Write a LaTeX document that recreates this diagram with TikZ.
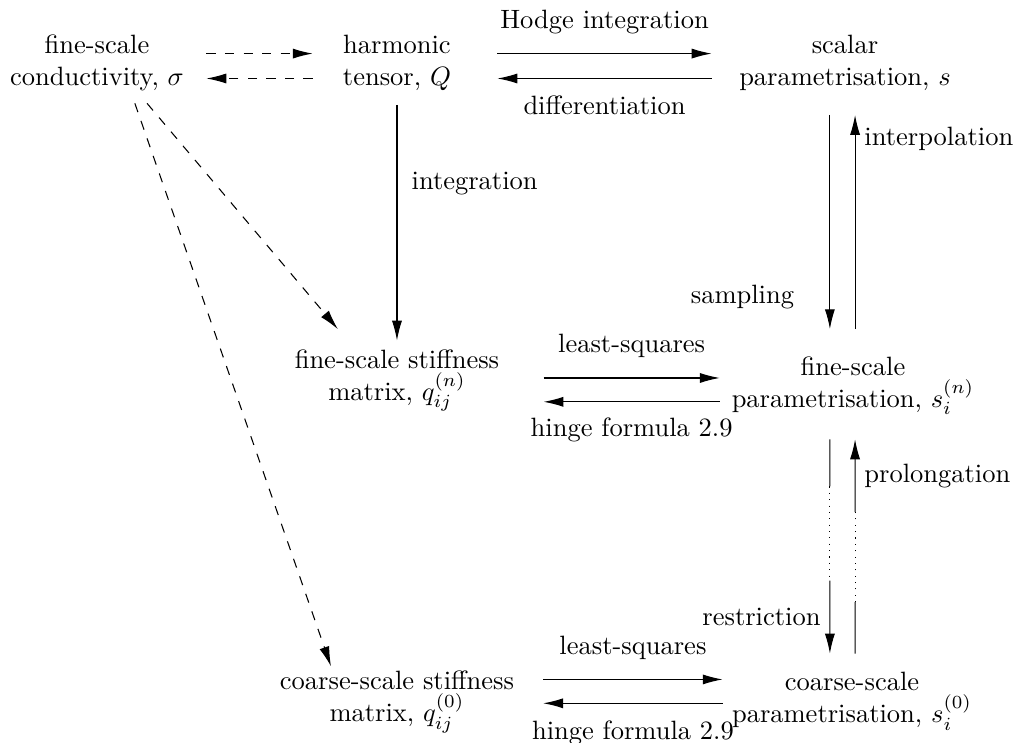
\documentclass[tikz,border=0pt]{standalone}
\usetikzlibrary{arrows.meta,calc}

\begin{document}
\begin{tikzpicture}[>={Latex[length=7.5pt,width=3.8pt]}, scale=1.0,
  blocco/.style={align=center},
  tratteggio/.style={->, dash pattern=on 3.5pt off 3.5pt}]

\useasboundingbox (0,0) rectangle (13.475,-9.841);

% Nodi
\node[blocco] (sig) at (1.286,-0.83) {fine-scale\\conductivity, $\sigma$};
\node[blocco] (Q)   at (5.265,-0.83) {harmonic\\tensor, $Q$};
\node[blocco] (s)   at (11.207,-0.83) {scalar\\parametrisation, $s$};
\node[blocco] (qn)  at (5.265,-5.048) {fine-scale stiffness\\matrix, $q_{ij}^{(n)}$};
\node[blocco] (sn)  at (11.313,-5.119) {fine-scale\\parametrisation, $s_i^{(n)}$};
\node[blocco] (q0)  at (5.265,-9.31) {coarse-scale stiffness\\matrix, $q_{ij}^{(0)}$};
\node[blocco] (s0)  at (11.300,-9.30) {coarse-scale\\parametrisation, $s_i^{(0)}$};

% Prima riga
\draw[tratteggio] ([xshift=5pt,yshift=3.4pt]sig.east) -- ([xshift=-7.9pt,yshift=3.4pt]sig.east -| Q.west);
\draw[tratteggio] ([xshift=-7.9pt,yshift=-6pt]Q.west) -- ([xshift=5pt,yshift=-6pt]Q.west -| sig.east);
\draw[->] ([xshift=14pt,yshift=3.4pt]Q.east) -- ([xshift=-6.9pt,yshift=3.4pt]Q.east -| s.west)
  node[midway, above=4pt] {Hodge integration};
\draw[->] ([xshift=-6.9pt,yshift=-6pt]s.west) -- ([xshift=14pt,yshift=-6pt]s.west -| Q.east)
  node[midway, below=3pt] {differentiation};

% Frecce verticali in alto
\draw[->, shorten <=2pt] (Q) -- (qn) node[pos=0.35, right=2pt] {integration};
\draw[->] ([xshift=-5.7pt,yshift=-5.8pt]s.south) -- ([xshift=-5.7pt,yshift=7pt]s.south |- sn.north)
  node[pos=0.85, left=10pt] {sampling};
\draw[->] ([xshift=3.8pt,yshift=7pt]s.south |- sn.north) -- ([xshift=3.8pt,yshift=-5.8pt]s.south)
  node[pos=0.89, right] {interpolation};

% Seconda riga
\draw[->] ([xshift=13.2pt,yshift=1pt]qn.east) -- ([xshift=-1pt,yshift=1pt]qn.east -| sn.west)
  node[midway, above=4pt] {least-squares};
\draw[->] ([xshift=-1pt,yshift=-8pt]qn.east -| sn.west) -- ([xshift=13.2pt,yshift=-8pt]qn.east)
  node[midway, below=2.5pt] {hinge formula 2.9};

% Restrizione e prolungamento (tratto centrale a puntini)
\coordinate (rA) at ([xshift=-5.7pt,yshift=-5.7pt]s.south |- sn.south);
\coordinate (rB) at ([xshift=-5.7pt,yshift=3.6pt]s.south |- s0.north);
\coordinate (pA) at ([xshift=3.8pt,yshift=3.6pt]s.south |- s0.north);
\coordinate (pB) at ([xshift=3.8pt,yshift=-5.7pt]s.south |- sn.south);

\draw (rA) -- ($(rA)!0.22!(rB)$);
\draw[dotted] ($(rA)!0.22!(rB)$) -- ($(rA)!0.66!(rB)$);
\draw[->] ($(rA)!0.66!(rB)$) -- (rB) node[midway, left] {restriction};

\draw (pA) -- ($(pA)!0.24!(pB)$);
\draw[dotted] ($(pA)!0.24!(pB)$) -- ($(pA)!0.66!(pB)$);
\draw[->] ($(pA)!0.66!(pB)$) -- (pB) node[midway, right] {prolongation};

% Terza riga
\draw[->] ([xshift=7.5pt,yshift=8.5pt]q0.east) -- ([yshift=8.5pt]q0.east -| s0.west)
  node[midway, above=4pt] {least-squares};
\draw[->] ([yshift=-0.5pt]q0.east -| s0.west) -- ([xshift=7.5pt,yshift=-0.5pt]q0.east)
  node[midway, below=3pt] {hinge formula 2.9};

% Frecce tratteggiate diagonali
\draw[tratteggio] ([xshift=18.9pt,yshift=-1.3pt]sig.south) -- ([xshift=-22.3pt,yshift=4.3pt]qn.north);
\draw[tratteggio] ([xshift=14.3pt,yshift=-1.3pt]sig.south) -- ([xshift=-24.9pt,yshift=-1.7pt]q0.north);

\end{tikzpicture}
\end{document}
